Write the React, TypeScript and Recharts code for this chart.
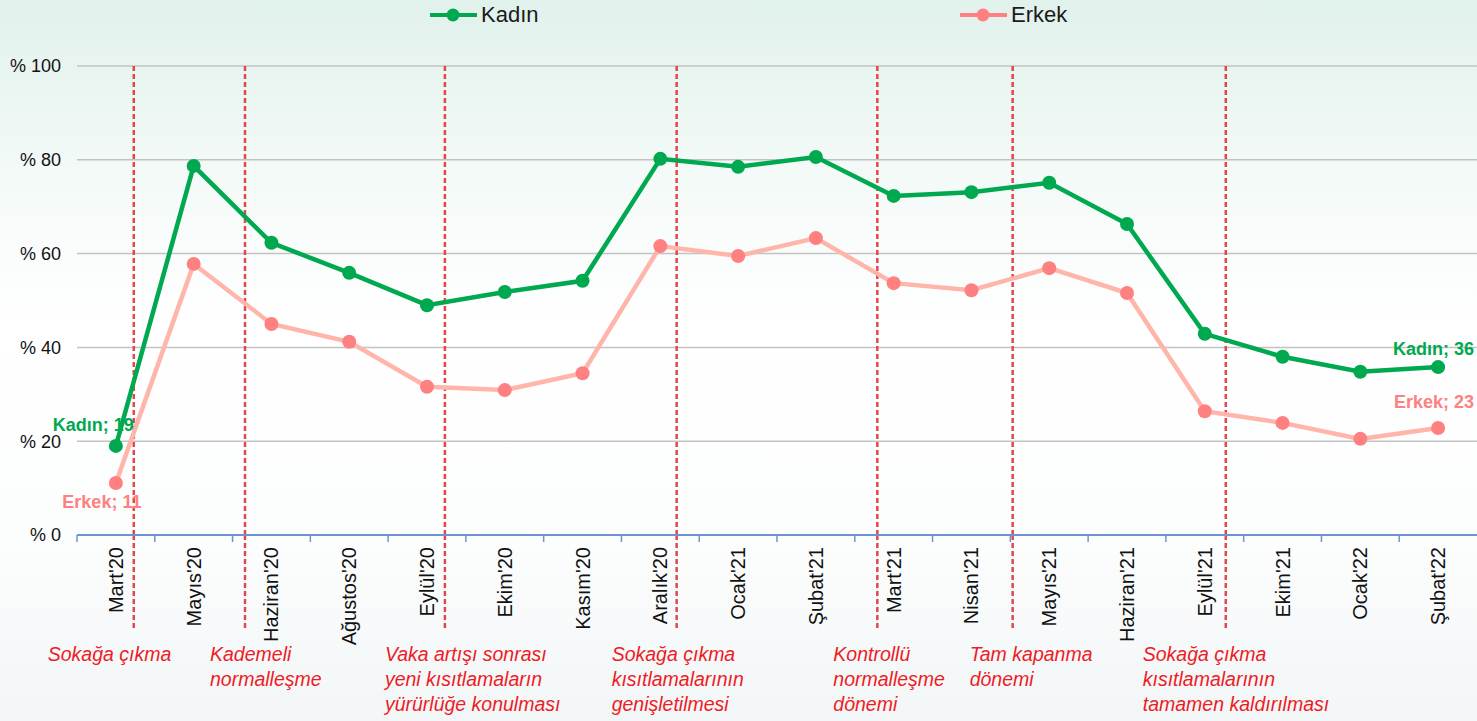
import { LineChart, Line, XAxis, YAxis, CartesianGrid, ReferenceLine } from "recharts";

const months = [
  "Mart'20", "Mayıs'20", "Haziran'20", "Ağustos'20", "Eylül'20", "Ekim'20",
  "Kasım'20", "Aralık'20", "Ocak'21", "Şubat'21", "Mart'21", "Nisan'21",
  "Mayıs'21", "Haziran'21", "Eylül'21", "Ekim'21", "Ocak'22", "Şubat'22",
];
const kadin = [19, 78.7, 62.3, 55.9, 49.0, 51.8, 54.2, 80.2, 78.5, 80.6, 72.3, 73.1, 75.1, 66.3, 42.9, 38.0, 34.8, 35.8];
const erkek = [11.1, 57.8, 45.0, 41.2, 31.6, 30.9, 34.5, 61.6, 59.5, 63.3, 53.7, 52.2, 56.9, 51.6, 26.4, 23.9, 20.5, 22.8];
const yTicks = [0, 20, 40, 60, 80, 100];

// event markers, in category units (between months)
const events = [0.23, 1.66, 4.23, 7.21, 9.79, 11.53, 14.27];
const eventNotes = [
  ["Sokağa çıkma"],
  ["Kademeli", "normalleşme"],
  ["Vaka artışı sonrası", "yeni kısıtlamaların", "yürürlüğe konulması"],
  ["Sokağa çıkma", "kısıtlamalarının", "genişletilmesi"],
  ["Kontrollü", "normalleşme", "dönemi"],
  ["Tam kapanma", "dönemi"],
  ["Sokağa çıkma", "kısıtlamalarının", "tamamen kaldırılması"],
];
const noteShift = [-86, -35, -60, -65, -44, -43, -83];

const W = 1477;
const H = 721;
const LEFT = 77;
const TOP = 66;
const XAXIS_H = 186;
const PLOT_BOTTOM = H - XAXIS_H;
const STEP = (W - LEFT) / months.length;

const GREEN = "#00a94f";
const SALMON_LINE = "#ffb5aa";
const SALMON_DOT = "#ff8080";
const AXIS_BLUE = "#6f93d2";
const NOTE_RED = "#ee1c25";
const DASH_RED = "#e0474f";
const FONT = "'Liberation Sans', Arial, sans-serif";

const rows = months.map((m, i) => ({ i, month: m, kadin: kadin[i], erkek: erkek[i] }));

const MonthTick = (props: any) => {
  const { x, payload } = props;
  const yy = PLOT_BOTTOM;
  return (
    <g>
      <line x1={x - STEP / 2} y1={yy} x2={x - STEP / 2} y2={yy + 7} stroke={AXIS_BLUE} strokeWidth={1.5} />
      <text
        transform={`translate(${x + 7},${yy + 12}) rotate(-90)`}
        textAnchor="end"
        fontSize={20}
        fontFamily={FONT}
        fill="#111"
      >
        {months[payload.value]}
      </text>
    </g>
  );
};

const EventLabel = (props: any) => {
  const { viewBox, k } = props;
  const x = viewBox.x;
  const bottom = viewBox.y + viewBox.height;
  return (
    <g>
      <line x1={x} y1={bottom} x2={x} y2={bottom + 95} stroke={DASH_RED} strokeWidth={2.5} strokeDasharray="5 3" />
      {eventNotes[k].map((t, j) => (
        <text
          key={j}
          x={x + noteShift[k]}
          y={661 + j * 25}
          fontSize={19.5}
          fontStyle="italic"
          fontFamily={FONT}
          fill={NOTE_RED}
        >
          {t}
        </text>
      ))}
    </g>
  );
};

const makeLabel = (name: string, color: string, first: [number, number, string], last: [number, number, string]) =>
  (props: any) => {
    const { x, y, value, index } = props;
    if (index !== 0 && index !== months.length - 1) return null;
    const [dx, dy, anchor] = index === 0 ? first : last;
    return (
      <text
        key={`${name}-${index}`}
        x={x + dx}
        y={y + dy}
        textAnchor={anchor as any}
        fontSize={18}
        fontWeight="bold"
        fontFamily={FONT}
        fill={color}
      >
        {`${name}; ${Math.round(value)}`}
      </text>
    );
  };

const kadinLabel = makeLabel("Kadın", GREEN, [18, -15, "end"], [36, -12, "end"]);
const erkekLabel = makeLabel("Erkek", SALMON_DOT, [-14, 25, "middle"], [36, -20, "end"]);

const LegendItem = ({ x, color, text }: { x: number; color: string; text: string }) => (
  <div style={{ position: "absolute", left: x, top: 2, display: "flex", alignItems: "center" }}>
    <svg width={50} height={24}>
      <line x1={1} y1={12} x2={48} y2={12} stroke={color} strokeWidth={4} />
      <circle cx={24} cy={12} r={6.5} fill={color} />
    </svg>
    <span style={{ fontFamily: FONT, fontSize: 22, color: "#1a1a1a", marginLeft: 2 }}>{text}</span>
  </div>
);

export default function App() {
  return (
    <div
      style={{
        position: "absolute",
        left: 0,
        top: 0,
        width: W,
        height: H,
        overflow: "hidden",
        background: "linear-gradient(to bottom, #e1f1ec 0%, #f4faf8 25%, #ffffff 45%, #fcfdfd 75%, #f2f6f7 100%)",
      }}
    >
      <LegendItem x={429} color={GREEN} text="Kadın" />
      <LegendItem x={959} color={SALMON_DOT} text="Erkek" />
      <LineChart width={W} height={H} data={rows} margin={{ top: TOP, right: 0, bottom: 0, left: 0 }}>
        <CartesianGrid vertical={false} stroke="#c3c3c3" strokeWidth={1.5} />
        <XAxis
          dataKey="i"
          type="number"
          domain={[-0.5, months.length - 0.5]}
          ticks={months.map((_, i) => i)}
          interval={0}
          height={XAXIS_H}
          tickLine={false}
          axisLine={{ stroke: AXIS_BLUE, strokeWidth: 2 }}
          tick={<MonthTick />}
        />
        <YAxis
          domain={[0, 100]}
          ticks={yTicks}
          width={LEFT}
          axisLine={false}
          tickLine={false}
          tickSize={8}
          tickMargin={8}
          tickFormatter={(v) => `% ${v}`}
          tick={{ fontSize: 18, fontFamily: FONT, fill: "#111" }}
        />
        {events.map((e, k) => (
          <ReferenceLine
            key={k}
            x={e}
            stroke={DASH_RED}
            strokeWidth={2.5}
            strokeDasharray="5 3"
            label={(p: any) => <EventLabel {...p} k={k} />}
          />
        ))}
        <Line
          dataKey="erkek"
          stroke={SALMON_LINE}
          strokeWidth={4.5}
          dot={{ r: 7, fill: SALMON_DOT, stroke: "none" }}
          activeDot={false}
          label={erkekLabel}
          isAnimationActive={false}
        />
        <Line
          dataKey="kadin"
          stroke={GREEN}
          strokeWidth={4.5}
          dot={{ r: 7, fill: GREEN, stroke: "none" }}
          activeDot={false}
          label={kadinLabel}
          isAnimationActive={false}
        />
      </LineChart>
    </div>
  );
}
